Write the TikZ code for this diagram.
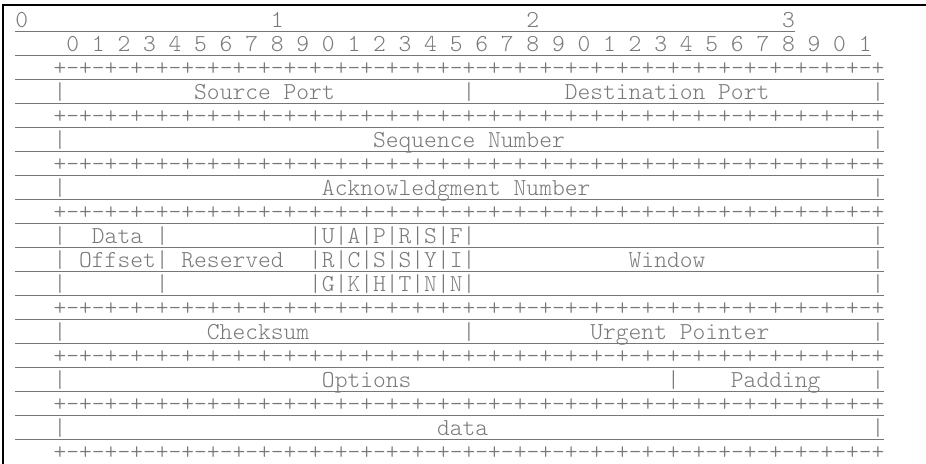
\documentclass[tikz,border=0pt]{standalone}
\usetikzlibrary{positioning, calc}
\definecolor{inkgray}{RGB}{120,120,120}
\definecolor{rulegray}{RGB}{118,118,118}
\newcommand{\cw}{12.78}
\newcommand{\sepline}{+-+-+-+-+-+-+-+-+-+-+-+-+-+-+-+-+-+-+-+-+-+-+-+-+-+-+-+-+-+-+-+-+}

\begin{document}
\begin{tikzpicture}[
  x=0.75pt, y=-0.75pt,
  every node/.style={font=\ttfamily\fontseries{l}\fontsize{18.26}{20}\selectfont, text=inkgray, inner sep=0pt, anchor=base west},
  rule/.style={draw=rulegray, line width=0.9pt},
  frame/.style={draw=black, line width=1.2pt},
]
  \useasboundingbox (0,0) rectangle (926,464);
  \draw[frame] (3.3,464) -- (3.3,4.7) -- (926,4.7);
  % bit ruler
  \foreach \d in {0,...,3} \node (ten\d) at ({15+\cw*20*\d},27) {\d};
  \foreach \j in {0,...,31}{
    \pgfmathtruncatemacro{\u}{mod(\j,10)}
    \node (bit\j) at ({15+\cw*(4+2*\j)},51) {\u};
  }
  % +-+ rows
  \foreach \r in {2,4,6,8,12,14,16,18} \node (sep\r) at ({15+3*\cw},{27+24*\r}) {\sepline};
  % field borders
  \foreach \r/\cols in {3/{3,35,67}, 5/{3,67}, 7/{3,67}, 13/{3,35,67}, 15/{3,51,67}, 17/{3,67},
                        9/{3,11,23,25,27,29,31,33,35,67}, 10/{3,11,23,25,27,29,31,33,35,67}, 11/{3,11,23,25,27,29,31,33,35,67}}
    \foreach \c in \cols \node (bar\r x\c) at ({15+\cw*\c},{27+24*\r}) {|};
  % field names
  \foreach \r/\c/\t/\n in {3/14/Source Port/sport, 3/43/Destination Port/dport, 5/28/Sequence Number/seq,
                           7/24/Acknowledgment Number/ack, 9/6/Data/data1, 10/5/Offset/data2, 10/13/Reserved/rsv,
                           10/48/Window/win, 13/15/Checksum/csum, 13/45/Urgent Pointer/urg,
                           15/24/Options/opts, 15/56/Padding/pad, 17/33/data/data}
    \node (\n) at ({15+\cw*\c},{27+24*\r}) {\t};
  % control flags
  \foreach \c/\a/\b/\e in {24/U/R/G, 26/A/C/K, 28/P/S/H, 30/R/S/T, 32/S/Y/N, 34/F/I/N}{
    \node (fa\c) at ({15+\cw*\c},243) {\a};
    \node (fb\c) at ({15+\cw*\c},267) {\b};
    \node (fc\c) at ({15+\cw*\c},291) {\e};
  }
  % underlines
  \draw[rule] (15,31.7) -- ++({61*\cw},0);
  \draw[rule] (15,55.7) -- ++({67*\cw},0);
  \foreach \r in {2,...,17} \draw[rule] (15,{31.7+24*\r}) -- ++({68*\cw},0);
\end{tikzpicture}
\end{document}
